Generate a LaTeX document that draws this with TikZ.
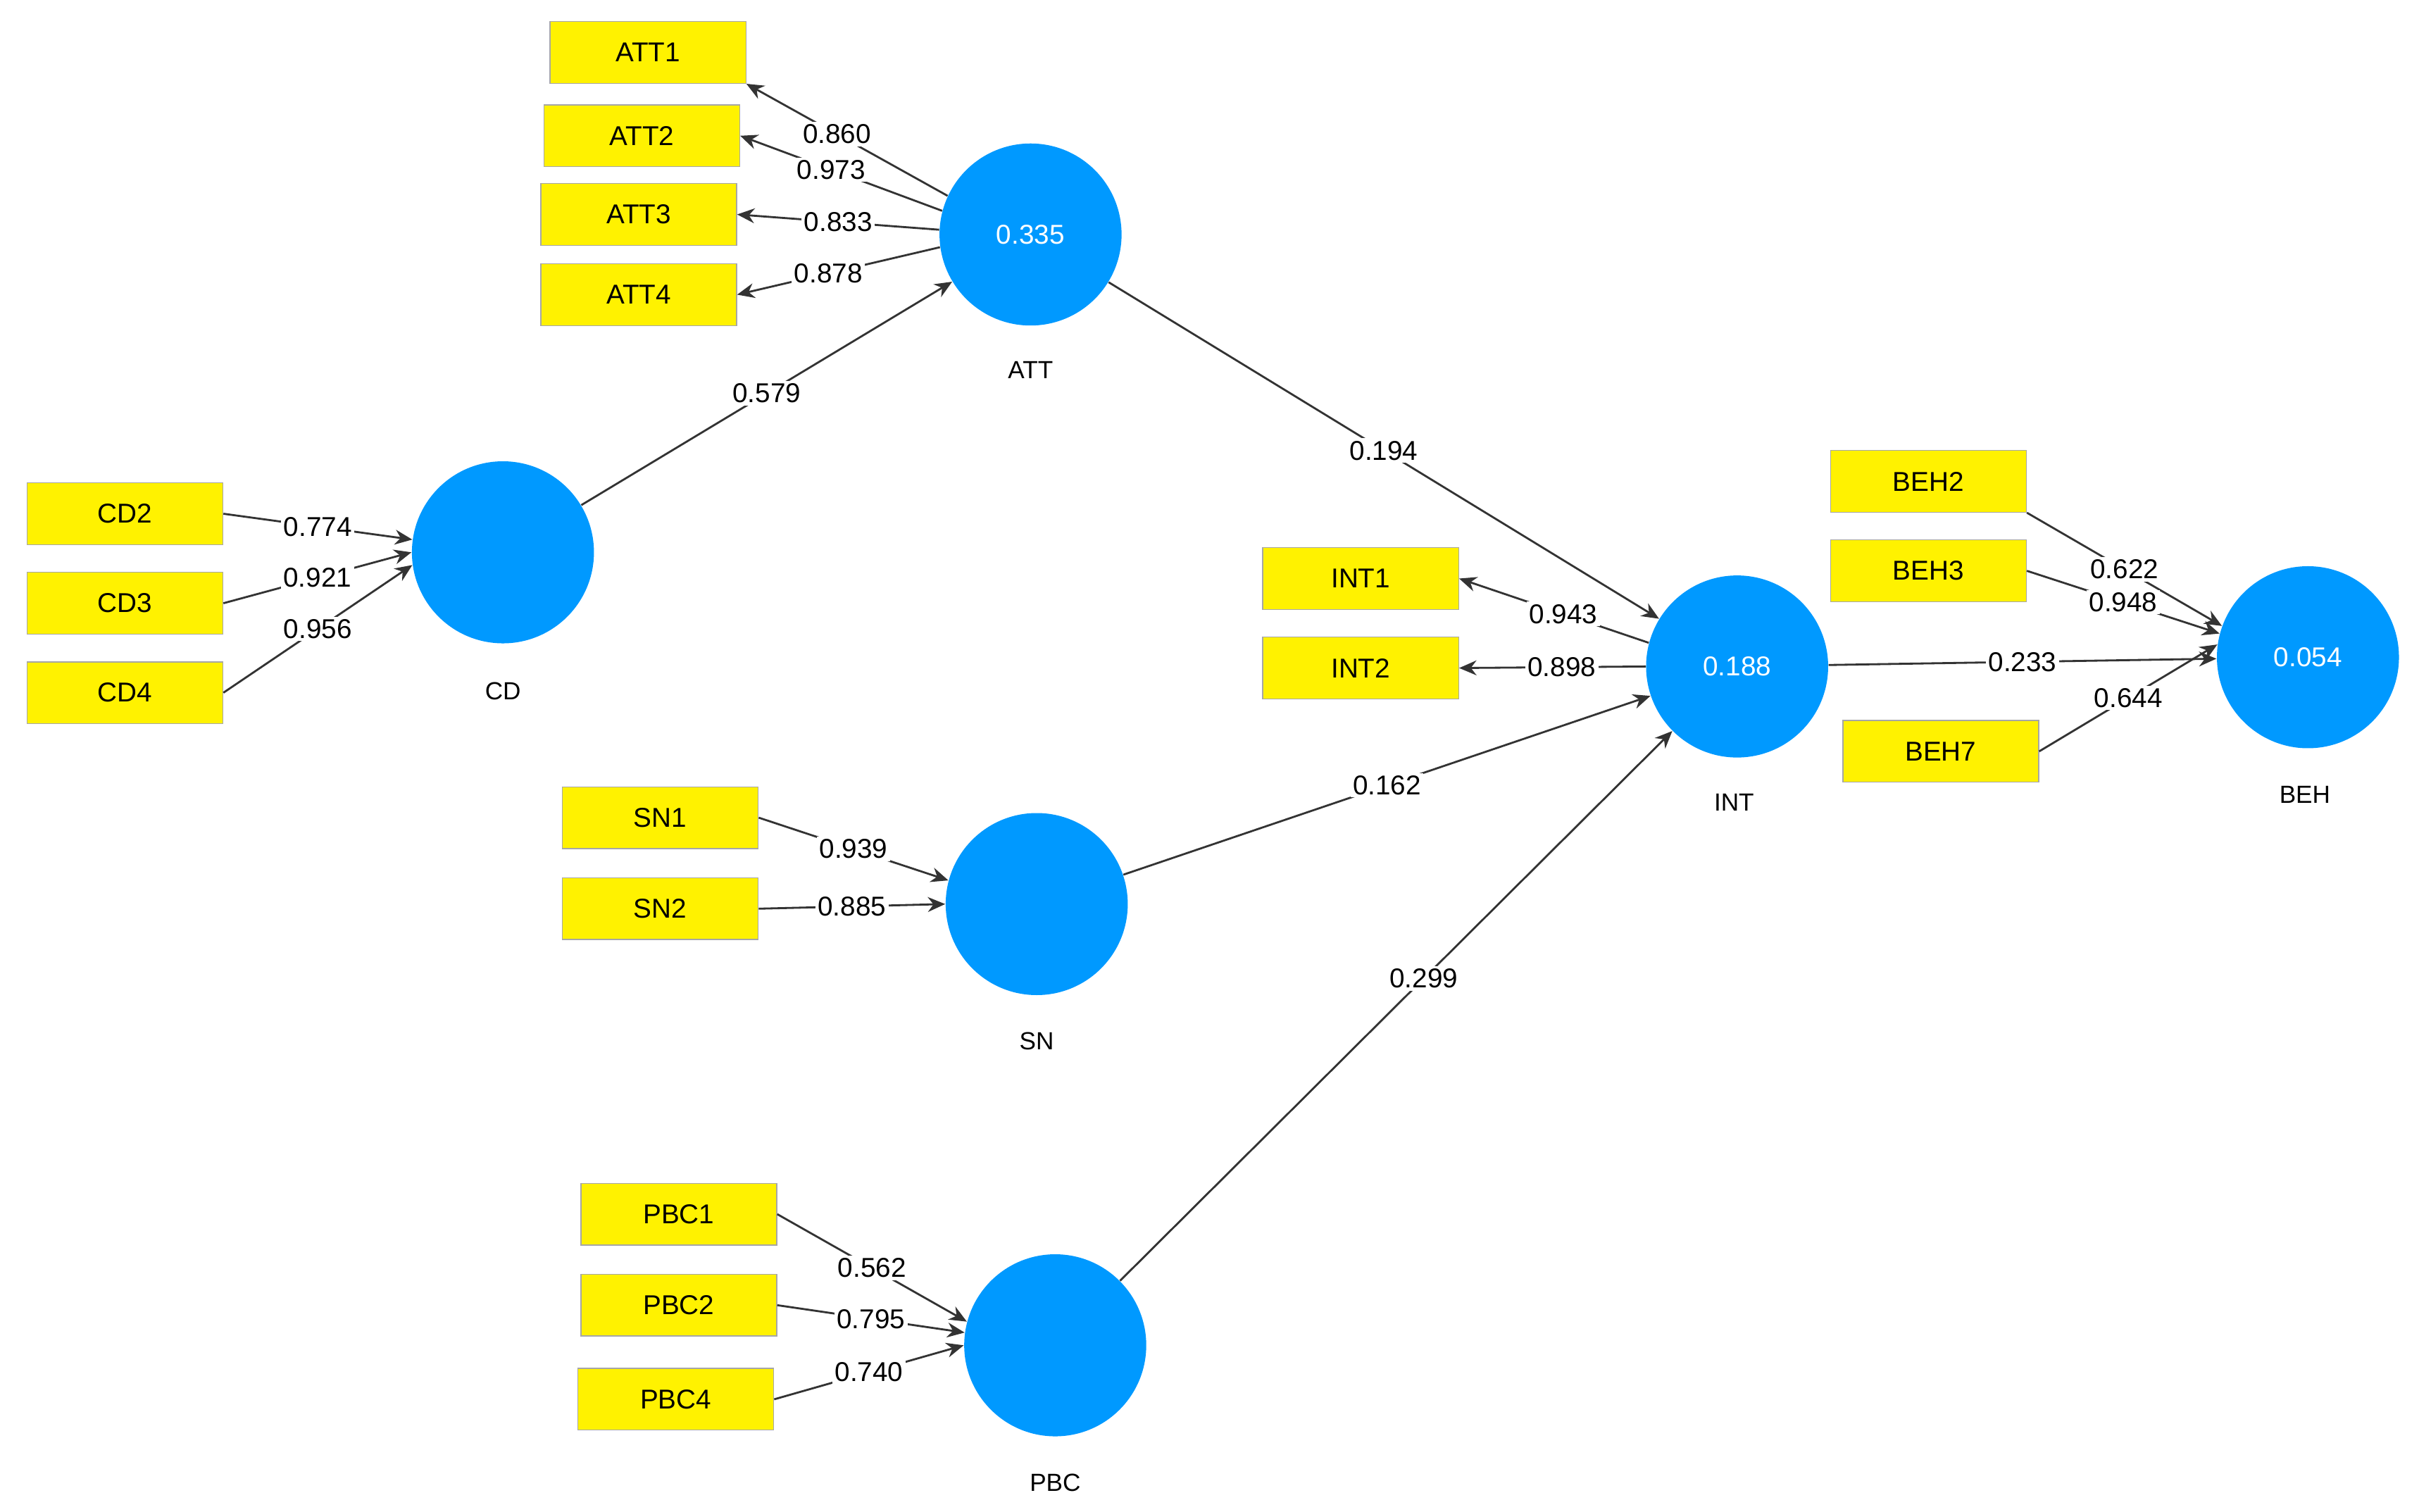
\documentclass[tikz,border=0pt]{standalone}
\usepackage{fontspec}
\setmainfont{Liberation Sans}
\usetikzlibrary{arrows.meta}
\definecolor{lv}{HTML}{0099FF}
\definecolor{ind}{HTML}{FFF200}
\begin{document}
\begin{tikzpicture}[x=0.0219cm,y=-0.0219cm,
  box/.style={draw=black!35,fill=ind,minimum width=127*0.0219cm,minimum height=40*0.0219cm,inner sep=0pt,font=\fontsize{11}{13}\selectfont},
  lat/.style={circle,fill=lv,minimum size=118*0.0219cm,inner sep=0pt,text=white,font=\fontsize{11}{13}\selectfont},
  nm/.style={font=\fontsize{10}{12}\selectfont},
  ar/.style={draw=black!80,line width=0.8pt,-{Stealth[length=7pt,width=6pt]}},
  lb/.style={fill=white,inner sep=1pt,font=\fontsize{11}{13}\selectfont}]
\useasboundingbox (0,0) rectangle (1568,980);
% latent
\node[lat] (ATT) at (668,152) {0.335};
\node[lat] (CD) at (326,358) {};
\node[lat] (SN) at (672,586) {};
\node[lat] (PBC) at (684,872) {};
\node[lat] (INT) at (1126,432) {0.188};
\node[lat] (BEH) at (1496,426) {0.054};
\node[nm] (lATT) at (668,240) {ATT};
\node[nm] (lCD) at (326,448) {CD};
\node[nm] (lSN) at (672,675) {SN};
\node[nm] (lPBC) at (684,961) {PBC};
\node[nm] (lINT) at (1124,520) {INT};
\node[nm] (lBEH) at (1494,515) {BEH};
% indicators
\node[box] (ATT1) at (420,34) {ATT1};
\node[box] (ATT2) at (416,88) {ATT2};
\node[box] (ATT3) at (414,139) {ATT3};
\node[box] (ATT4) at (414,191) {ATT4};
\node[box] (CD2) at (81,333) {CD2};
\node[box] (CD3) at (81,391) {CD3};
\node[box] (CD4) at (81,449) {CD4};
\node[box] (SN1) at (428,530) {SN1};
\node[box] (SN2) at (428,589) {SN2};
\node[box] (PBC1) at (440,787) {PBC1};
\node[box] (PBC2) at (440,846) {PBC2};
\node[box] (PBC4) at (438,907) {PBC4};
\node[box] (INT1) at (882,375) {INT1};
\node[box] (INT2) at (882,433) {INT2};
\node[box] (BEH2) at (1250,312) {BEH2};
\node[box] (BEH3) at (1250,370) {BEH3};
\node[box] (BEH7) at (1258,487) {BEH7};
% outer loadings
\draw[ar] (ATT.155) -- node[lb,pos=0.55]{0.860} (ATT1.south east);
\draw[ar] (ATT.165) -- node[lb,pos=0.55]{0.973} (ATT2.east);
\draw[ar] (ATT.177) -- node[lb,pos=0.5]{0.833} (ATT3.east);
\draw[ar] (ATT.188) -- node[lb,pos=0.55]{0.878} (ATT4.east);
\draw[ar] (CD2.east) -- node[lb,pos=0.5]{0.774} (CD.172);
\draw[ar] (CD3.east) -- node[lb,pos=0.5]{0.921} (CD.180);
\draw[ar] (CD4.east) -- node[lb,pos=0.5]{0.956} (CD.188);
\draw[ar] (SN1.east) -- node[lb,pos=0.5]{0.939} (SN.165);
\draw[ar] (SN2.east) -- node[lb,pos=0.5]{0.885} (SN.180);
\draw[ar] (PBC1.east) -- node[lb,pos=0.5]{0.562} (PBC.165);
\draw[ar] (PBC2.east) -- node[lb,pos=0.5]{0.795} (PBC.172);
\draw[ar] (PBC4.east) -- node[lb,pos=0.5]{0.740} (PBC.180);
\draw[ar] (INT.165) -- node[lb,pos=0.45]{0.943} (INT1.east);
\draw[ar] (INT.180) -- node[lb,pos=0.45]{0.898} (INT2.east);
\draw[ar] (BEH2.south east) -- node[lb,pos=0.5]{0.622} (BEH.160);
\draw[ar] (BEH3.east) -- node[lb,pos=0.5]{0.948} (BEH.165);
\draw[ar] (BEH7.east) -- node[lb,pos=0.5]{0.644} (BEH.172);
% paths
\draw[ar] (CD) -- node[lb,pos=0.5]{0.579} (ATT);
\draw[ar] (ATT) -- node[lb,pos=0.5]{0.194} (INT);
\draw[ar] (SN) -- node[lb,pos=0.5]{0.162} (INT);
\draw[ar] (PBC) -- node[lb,pos=0.55]{0.299} (INT);
\draw[ar] (INT) -- node[lb,pos=0.5]{0.233} (BEH);
\end{tikzpicture}
\end{document}
